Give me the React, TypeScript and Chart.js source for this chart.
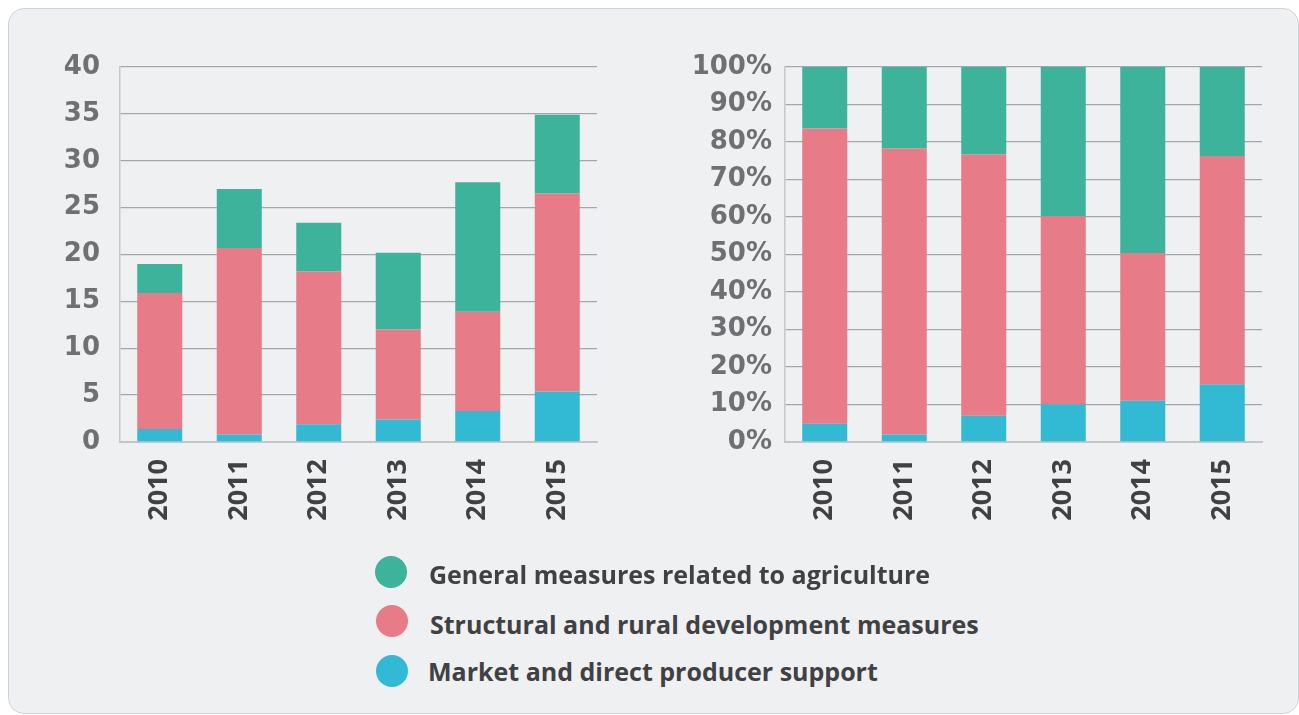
import React, { useEffect, useRef } from "react";
import { Chart, registerables } from "chart.js";

Chart.register(...registerables);

// ---- data ----
const years = ["2010", "2011", "2012", "2013", "2014", "2015"];
const seriesNames = [
  "General measures related to agriculture",
  "Structural and rural development measures",
  "Market and direct producer support",
];
const seriesColors = ["#3cb39a", "#e77b87", "#32b9d3"];

// left chart: absolute values
const generalAbs = [3.1, 6.3, 5.2, 8.2, 13.8, 8.4];
const structuralAbs = [14.5, 19.9, 16.3, 9.6, 10.6, 21.1];
const marketAbs = [1.4, 0.8, 1.9, 2.4, 3.3, 5.4];
const leftMax = 40;
const leftStep = 5;

// right chart: shares (%)
const generalPct = [16.6, 22.2, 23.5, 40.2, 50.1, 23.9];
const structuralPct = [78.7, 76.3, 69.7, 50.2, 39.4, 60.9];
const marketPct = [4.9, 2.0, 7.0, 10.1, 11.0, 15.4];
const rightMax = 100;
const rightStep = 10;

type BarProps = {
  general: number[];
  structural: number[];
  market: number[];
  max: number;
  step: number;
  suffix: string;
  yWidth: number;
  labelPad: number;
  padTop: number;
  left: number;
  top: number;
  width: number;
  height: number;
};

function StackedBars(p: BarProps) {
  const ref = useRef<HTMLCanvasElement | null>(null);
  useEffect(() => {
    if (!ref.current) return;
    const xh = 158;
    const chart = new Chart(ref.current, {
      type: "bar",
      data: {
        labels: years,
        datasets: [
          { label: seriesNames[2], data: p.market, backgroundColor: seriesColors[2] },
          { label: seriesNames[1], data: p.structural, backgroundColor: seriesColors[1] },
          { label: seriesNames[0], data: p.general, backgroundColor: seriesColors[0] },
        ],
      },
      options: {
        animation: false,
        responsive: false,
        maintainAspectRatio: false,
        layout: { padding: { top: p.padTop, right: 30, left: 0, bottom: 0 } },
        plugins: { legend: { display: false }, tooltip: { enabled: false } },
        datasets: { bar: { barPercentage: 0.566, categoryPercentage: 1 } },
        scales: {
          x: {
            stacked: true,
            grid: { display: false, drawTicks: false },
            border: { display: true, color: "#c3c5c8", width: 2 },
            ticks: {
              minRotation: 90,
              maxRotation: 90,
              padding: 17,
              color: "#414042",
              font: { family: "'Open Sans'", size: 27, weight: "bold" },
            },
            afterFit: (s: any) => {
              s.height = xh;
            },
          },
          y: {
            stacked: true,
            min: 0,
            max: p.max,
            ticks: {
              stepSize: p.step,
              padding: p.labelPad,
              color: "#6f7073",
              font: { family: "'DejaVu Sans'", size: 26, weight: "bold" },
              callback: (v: any) => `${v}${p.suffix}`,
            },
            grid: { color: "#a4a6a9", lineWidth: 1.3, drawTicks: false },
            border: { display: true, color: "#c6c8cb", width: 1.5 },
            afterFit: (s: any) => {
              s.width = p.yWidth;
            },
          },
        },
      },
    } as any);
    return () => chart.destroy();
  }, []);
  return (
    <canvas
      ref={ref}
      width={p.width}
      height={p.height}
      style={{ position: "absolute", left: p.left, top: p.top, width: p.width, height: p.height }}
    />
  );
}

const legendRows = [
  { name: seriesNames[0], color: seriesColors[0], cx: 391, cy: 572, tx: 429, ty: 574 },
  { name: seriesNames[1], color: seriesColors[1], cx: 392, cy: 621, tx: 430, ty: 624 },
  { name: seriesNames[2], color: seriesColors[2], cx: 392, cy: 671, tx: 428, ty: 671 },
];

export default function App() {
  const ox = 9;
  const oy = 9;
  return (
    <div
      style={{
        position: "fixed",
        left: 8,
        top: 8,
        width: 1291,
        height: 706,
        boxSizing: "border-box",
        border: "1px solid #cfd2d5",
        borderRadius: 16,
        background: "#eff0f2",
        overflow: "hidden",
      }}
    >
      <StackedBars
        general={generalAbs}
        structural={structuralAbs}
        market={marketAbs}
        max={leftMax}
        step={leftStep}
        suffix=""
        yWidth={100}
        labelPad={20}
        padTop={38}
        left={20 - ox}
        top={29 - oy}
        width={607}
        height={571}
      />
      <StackedBars
        general={generalPct}
        structural={structuralPct}
        market={marketPct}
        max={rightMax}
        step={rightStep}
        suffix="%"
        yWidth={103}
        labelPad={13}
        padTop={31}
        left={682 - ox}
        top={36 - oy}
        width={610}
        height={564}
      />
      {legendRows.map((r) => (
        <React.Fragment key={r.name}>
          <div
            style={{
              position: "absolute",
              left: r.cx - 16 - ox,
              top: r.cy - 16 - oy,
              width: 32,
              height: 32,
              borderRadius: "50%",
              background: r.color,
            }}
          />
          <div
            style={{
              position: "absolute",
              left: r.tx - ox,
              top: r.ty - 16 - oy,
              height: 32,
              lineHeight: "32px",
              whiteSpace: "nowrap",
              fontFamily: "'Open Sans'",
              fontWeight: 700,
              fontSize: 25,
              color: "#414042",
            }}
          >
            {r.name}
          </div>
        </React.Fragment>
      ))}
    </div>
  );
}
